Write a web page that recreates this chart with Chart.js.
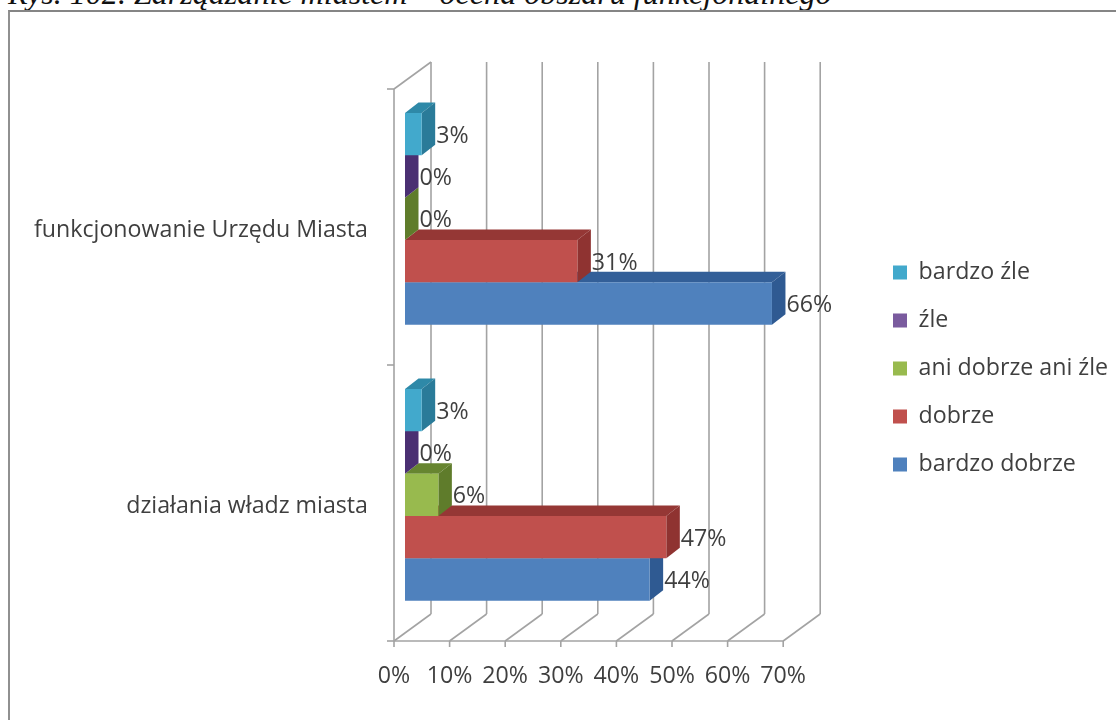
<!DOCTYPE html>
<html lang="pl">
<head>
<meta charset="utf-8">
<script src="https://cdn.jsdelivr.net/npm/chart.js@4"></script>
<style>
html,body{margin:0;padding:0;background:#fff;width:1116px;height:720px;overflow:hidden}
#title{position:absolute;left:8px;top:-25px;font:italic 32.1px "Liberation Serif",serif;color:#111;white-space:nowrap;line-height:36px}
#frame{position:absolute;left:8px;top:10px;width:1108px;height:710px;border-top:2px solid #858585;border-left:2px solid #909090;box-sizing:border-box}
#wrap{position:absolute;left:0;top:0;width:1116px;height:720px}
canvas{filter:blur(.35px)}
</style>
</head>
<body>
<div id="title">Rys. 102. Zarządzanie miastem – ocena obszaru funkcjonalnego</div>
<div id="frame"></div>
<div id="wrap"><canvas id="c" width="1116" height="720"></canvas></div>
<script>
const categories = ['funkcjonowanie Urzędu Miasta', 'działania władz miasta'];
const seriesNames = ['bardzo źle', 'źle', 'ani dobrze ani źle', 'dobrze', 'bardzo dobrze'];
const bardzoZle = [3, 3];
const zle = [0, 0];
const aniDobrzeAniZle = [0, 6];
const dobrze = [31, 47];
const bardzoDobrze = [66, 44];
const xTicks = [0, 10, 20, 30, 40, 50, 60, 70];
const frontColors = ['#42A9CC', '#7A5B9E', '#98BA4E', '#C0504D', '#4F81BD'];
const sideColors = ['#2A7B99', '#4A2F72', '#5F7C2B', '#8F3331', '#2F5A92'];
const topColors = ['#2E89A8', '#4A2F72', '#678530', '#953735', '#335F98'];

const DX = 13.5, DY = 10.5;          // bar depth
const FRONT = [-11, 8.2];            // front wall plane relative to bar plane
const BACK = [26, -18.8];            // back wall plane relative to bar plane
const GRID = '#A3A3A3', TEXT = '#3F3F3F', FONT = '"Open Sans"', FS = 23.2;

const box3d = {
  id: 'box3d',
  afterLayout(chart) {
    const l = chart.legend;
    l.left = 868.2; l.right = 1116; l.top = 236.1; l.bottom = 520;
  },
  beforeDatasetsDraw(chart) {
    const {ctx, scales: {x, y}, chartArea: a} = chart;
    ctx.save();
    ctx.strokeStyle = GRID; ctx.lineWidth = 1.6;
    const line = (x1, y1, x2, y2) => { ctx.beginPath(); ctx.moveTo(x1, y1); ctx.lineTo(x2, y2); ctx.stroke(); };
    xTicks.forEach(v => {
      const p = x.getPixelForValue(v);
      line(p + BACK[0], a.top + BACK[1], p + BACK[0], a.bottom + BACK[1]);
      line(p + FRONT[0], a.bottom + FRONT[1], p + BACK[0], a.bottom + BACK[1]);
      line(p + FRONT[0], a.bottom + FRONT[1], p + FRONT[0], a.bottom + FRONT[1] + 6);
    });
    const x0 = x.getPixelForValue(0);
    line(x0 + FRONT[0], a.top + FRONT[1], x0 + FRONT[0], a.bottom + FRONT[1]);
    line(x0 + FRONT[0], a.top + FRONT[1], x0 + BACK[0], a.top + BACK[1]);
    line(x0 + FRONT[0], a.bottom + FRONT[1], x.getPixelForValue(70) + FRONT[0], a.bottom + FRONT[1]);
    [a.top, (a.top + a.bottom) / 2, a.bottom].forEach(py => {
      line(x0 + FRONT[0] - 7, py + FRONT[1], x0 + FRONT[0], py + FRONT[1]);
    });
    ctx.restore();
  },
  beforeDatasetDraw(chart, args) {
    const {ctx} = chart, i = args.index;
    ctx.save();
    chart.getDatasetMeta(i).data.forEach(el => {
      const t = el.y - el.height / 2, b = el.y + el.height / 2;
      ctx.fillStyle = topColors[i];
      ctx.beginPath();
      ctx.moveTo(el.base, t); ctx.lineTo(el.x, t);
      ctx.lineTo(el.x + DX, t - DY); ctx.lineTo(el.base + DX, t - DY);
      ctx.closePath(); ctx.fill();
      ctx.fillStyle = sideColors[i];
      ctx.beginPath();
      ctx.moveTo(el.x, t); ctx.lineTo(el.x + DX, t - DY);
      ctx.lineTo(el.x + DX, b - DY); ctx.lineTo(el.x, b);
      ctx.closePath(); ctx.fill();
    });
    ctx.restore();
  },
  afterDatasetsDraw(chart) {
    const {ctx} = chart;
    ctx.save();
    ctx.font = FS + 'px ' + FONT; ctx.fillStyle = TEXT;
    ctx.textAlign = 'left'; ctx.textBaseline = 'middle';
    chart.data.datasets.forEach((ds, i) => {
      chart.getDatasetMeta(i).data.forEach((el, j) => {
        ctx.fillText(ds.data[j] + '%', el.x + DX + 1, el.y + 2);
      });
    });
    ctx.restore();
  }
};

const allSeries = [bardzoZle, zle, aniDobrzeAniZle, dobrze, bardzoDobrze];
new Chart(document.getElementById('c'), {
  type: 'bar',
  data: {
    labels: categories,
    datasets: seriesNames.map((n, i) => ({
      label: n, data: allSeries[i], backgroundColor: frontColors[i], borderWidth: 0,
      categoryPercentage: 0.767, barPercentage: 1
    }))
  },
  plugins: [box3d],
  options: {
    indexAxis: 'y',
    responsive: false,
    animation: false,
    layout: {padding: {left: 0, right: 321.8, top: 80.8, bottom: 27.2}},
    scales: {
      x: {
        min: 0, max: 70,
        grid: {display: false, drawTicks: false}, border: {display: false},
        afterFit(s) { s.height = 60; },
        afterBuildTicks(s) { s.ticks = xTicks.map(v => ({value: v})); },
        ticks: {
          autoSkip: false, maxRotation: 0, labelOffset: -11, padding: 30,
          color: TEXT, font: {family: FONT, size: FS},
          callback: v => v + '%'
        }
      },
      y: {
        grid: {display: false, drawTicks: false}, border: {display: false},
        afterFit(s) { s.width = 405; },
        ticks: {
          labelOffset: 11.5, padding: 37, color: TEXT,
          font: {family: FONT, size: FS}
        }
      }
    },
    plugins: {
      title: {display: false},
      tooltip: {enabled: false},
      legend: {
        position: 'chartArea', align: 'start',
        labels: {boxWidth: 14, boxHeight: 14, padding: 24.8, color: TEXT, font: {family: FONT, size: FS}}
      }
    }
  }
});
</script>
</body>
</html>
